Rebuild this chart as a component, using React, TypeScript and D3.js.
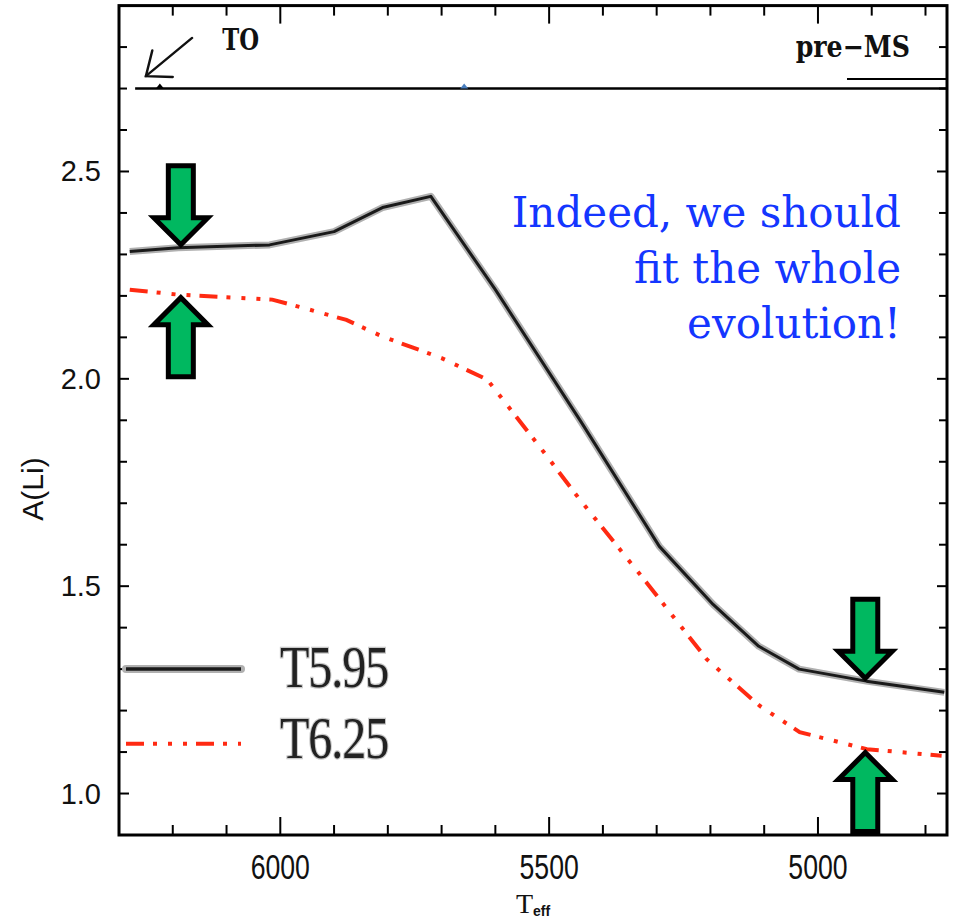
import React from "react";
import * as d3 from "d3";

// ---- data ----
const T_BLACK = [6280, 6190, 6020, 5900, 5810, 5720, 5600, 5440, 5295, 5195, 5110, 5035, 4910, 4765];
const A_BLACK = [2.307, 2.316, 2.323, 2.355, 2.413, 2.44, 2.215, 1.895, 1.596, 1.456, 1.355, 1.3, 1.271, 1.244];
const T_RED = [6280, 6190, 6015, 5946, 5877, 5810, 5700, 5615, 5518, 5443, 5319, 5207, 5108, 5034, 4909, 4770];
const A_RED = [2.215, 2.203, 2.191, 2.167, 2.142, 2.102, 2.05, 1.998, 1.837, 1.709, 1.509, 1.324, 1.211, 1.148, 1.107, 1.091];
const SERIES_NAMES = ["T5.95", "T6.25"];
const X_TICK_LABELS = [6000, 5500, 5000];
const Y_TICK_LABELS = [1.0, 1.5, 2.0, 2.5];
const X_DOMAIN = [6300, 4760];
const Y_DOMAIN = [0.9, 2.9];
const SEPARATOR_A = 2.7;
const MARKERS_T = [6224, 5658];
// arrows: [T, A, direction]
const ARROWS: [number, number, number][] = [
  [6185, 2.316, 1],
  [6185, 2.203, -1],
  [4912, 1.271, 1],
  [4912, 1.106, -1],
];
const NOTE_LINES = ["Indeed, we should", "fit the whole", "evolution!"];

const W = 958;
const H = 919;
const L = 119, R = 947, TOP = 5.6, BOT = 835;

export default function App() {
  const x = d3.scaleLinear().domain(X_DOMAIN).range([L, R]);
  const y = d3.scaleLinear().domain(Y_DOMAIN).range([BOT, TOP]);

  const black = T_BLACK.map((t, i) => [t, A_BLACK[i]] as [number, number]);
  const red = T_RED.map((t, i) => [t, A_RED[i]] as [number, number]);
  const line = d3.line<[number, number]>().x((d) => x(d[0])).y((d) => y(d[1]));

  const xMinor = d3.range(4800, 6301, 100);
  const yMinor = d3.range(10, 29).map((v) => v / 10);

  const redDash = "18 9 4 11 4 11 4 9";
  const axisFont = "'Liberation Sans', Arial, sans-serif";
  const typeFont = "'DejaVu Serif', serif";

  const arrowPath = (dir: number) => {
    const s = dir;
    const pts = [
      [-12.5, -80], [12.5, -80], [12.5, -28], [27, -28], [0, -1], [-27, -28], [-12.5, -28],
    ].map(([a, b]) => [a, b * s]);
    return "M" + pts.map((p) => p.join(",")).join("L") + "Z";
  };

  return (
    <svg width={W} height={H} style={{ position: "absolute", left: 0, top: 0, background: "#fff" }}>
      <defs>
        <clipPath id="plot">
          <rect x={L} y={TOP} width={R - L} height={BOT - TOP} />
        </clipPath>
      </defs>

      {/* ticks x */}
      {xMinor.map((t) => {
        const major = X_TICK_LABELS.includes(t);
        const len = major ? 18 : 10;
        return (
          <g key={"xt" + t} stroke="#000" strokeWidth={2}>
            <line x1={x(t)} x2={x(t)} y1={BOT} y2={BOT - len} />
            <line x1={x(t)} x2={x(t)} y1={TOP} y2={TOP + len} />
          </g>
        );
      })}
      {/* ticks y */}
      {yMinor.map((v) => {
        const major = Y_TICK_LABELS.some((m) => Math.abs(m - v) < 1e-6);
        const len = major ? 10 : 8;
        return (
          <g key={"yt" + v} stroke="#000" strokeWidth={2}>
            <line x1={L} x2={L + len} y1={y(v)} y2={y(v)} />
            <line x1={R} x2={R - len} y1={y(v)} y2={y(v)} />
          </g>
        );
      })}

      {/* x labels */}
      {X_TICK_LABELS.map((t) => (
        <text
          key={"xl" + t}
          transform={`translate(${x(t)},${879}) scale(0.86,1.15)`}
          textAnchor="middle"
          fontFamily={axisFont}
          fontSize={31}
          fill="#111"
        >
          {t}
        </text>
      ))}
      {/* y labels */}
      {Y_TICK_LABELS.map((v) => (
        <text
          key={"yl" + v}
          x={101}
          y={y(v) + 10}
          textAnchor="end"
          fontFamily={axisFont}
          fontSize={29}
          fill="#111"
        >
          {v.toFixed(1)}
        </text>
      ))}

      {/* axis titles */}
      <text
        transform={`translate(43,${489}) rotate(-90)`}
        textAnchor="middle"
        fontFamily={axisFont}
        fontSize={30}
        fill="#111"
      >
        A(Li)
      </text>
      <text x={516} y={913} fontFamily="'Liberation Serif', serif" fontSize={28} fill="#111">
        T
      </text>
      <text x={533} y={916} fontFamily={axisFont} fontWeight="bold" fontSize={14} fill="#111">
        eff
      </text>

      {/* separator line at TO/pre-MS panel */}
      <line x1={x(6270)} x2={R} y1={y(SEPARATOR_A)} y2={y(SEPARATOR_A)} stroke="#000" strokeWidth={2.5} />
      <path
        d={`M${x(MARKERS_T[0]) - 4},${y(SEPARATOR_A)} L${x(MARKERS_T[0])},${y(SEPARATOR_A) - 5} L${x(MARKERS_T[0]) + 4},${y(SEPARATOR_A)} Z`}
        fill="#000"
      />
      <path
        d={`M${x(MARKERS_T[1]) - 4},${y(SEPARATOR_A)} L${x(MARKERS_T[1])},${y(SEPARATOR_A) - 5} L${x(MARKERS_T[1]) + 4},${y(SEPARATOR_A)} Z`}
        fill="#4a7fbf"
      />
      <line x1={x(4946)} x2={R} y1={y(2.723)} y2={y(2.723)} stroke="#000" strokeWidth={2} />
      <text
        transform={`translate(${x(4829)},${y(2.776)}) scale(0.87,1)`}
        textAnchor="end"
        fontFamily={typeFont}
        fontWeight="bold"
        fontSize={29}
        fill="#111"
      >
        pre−MS
      </text>
      <text
        transform={`translate(${x(6108)},${y(2.793)}) scale(0.76,1)`}
        fontFamily={typeFont}
        fontWeight="bold"
        fontSize={30}
        fill="#111"
      >
        TO
      </text>
      {/* TO arrow */}
      <g stroke="#111" strokeWidth={2.4} fill="none" strokeLinecap="round">
        <line x1={x(6164)} y1={y(2.822)} x2={x(6250)} y2={y(2.73)} />
        <polyline points={`${x(6238)},${y(2.792)} ${x(6250)},${y(2.73)} ${x(6200)},${y(2.728)}`} />
      </g>

      {/* curves */}
      <g clipPath="url(#plot)">
        <path d={line(black) || ""} fill="none" stroke="#b0b0b0" strokeWidth={7} strokeLinejoin="round" />
        <path d={line(black) || ""} fill="none" stroke="#1a1a1a" strokeWidth={3} strokeLinejoin="round" />
        <path d={line(red) || ""} fill="none" stroke="#ff2a12" strokeWidth={4} strokeDasharray={redDash} />
      </g>

      {/* legend */}
      <line x1={L + 7} x2={L + 122} y1={y(1.3)} y2={y(1.3)} stroke="#b0b0b0" strokeWidth={8} strokeLinecap="round" />
      <line x1={L + 7} x2={L + 122} y1={y(1.3)} y2={y(1.3)} stroke="#1a1a1a" strokeWidth={3.5} />
      <line x1={L + 7} x2={L + 122} y1={y(1.12)} y2={y(1.12)} stroke="#ff2a12" strokeWidth={4} strokeDasharray={redDash} />
      {SERIES_NAMES.map((name, i) => (
        <text
          key={name}
          transform={`translate(280,${i === 0 ? 687 : 758}) scale(1,1.22)`}
          fontFamily="'Liberation Serif', 'Times New Roman', serif"
          fontSize={48}
          fill="#222"
          stroke="#c8c8c8"
          strokeWidth={2}
          paintOrder="stroke"
          letterSpacing={-1}
        >
          {name}
        </text>
      ))}

      {/* note */}
      {NOTE_LINES.map((s, i) => (
        <text
          key={s}
          x={901}
          y={227 + i * 55.5}
          textAnchor="end"
          fontFamily="'DejaVu Serif', serif"
          fontSize={42}
          fill="#1436ff"
        >
          {s}
        </text>
      ))}

      {/* green arrows */}
      {ARROWS.map(([t, a, dir], i) => (
        <path
          key={"ar" + i}
          transform={`translate(${x(t)},${y(a) - 2 * dir})`}
          d={arrowPath(dir)}
          fill="#00b860"
          stroke="#000"
          strokeWidth={5}
          strokeLinejoin="miter"
        />
      ))}

      {/* frame */}
      <rect x={L} y={TOP} width={R - L} height={BOT - TOP} fill="none" stroke="#000" strokeWidth={3} />
    </svg>
  );
}
